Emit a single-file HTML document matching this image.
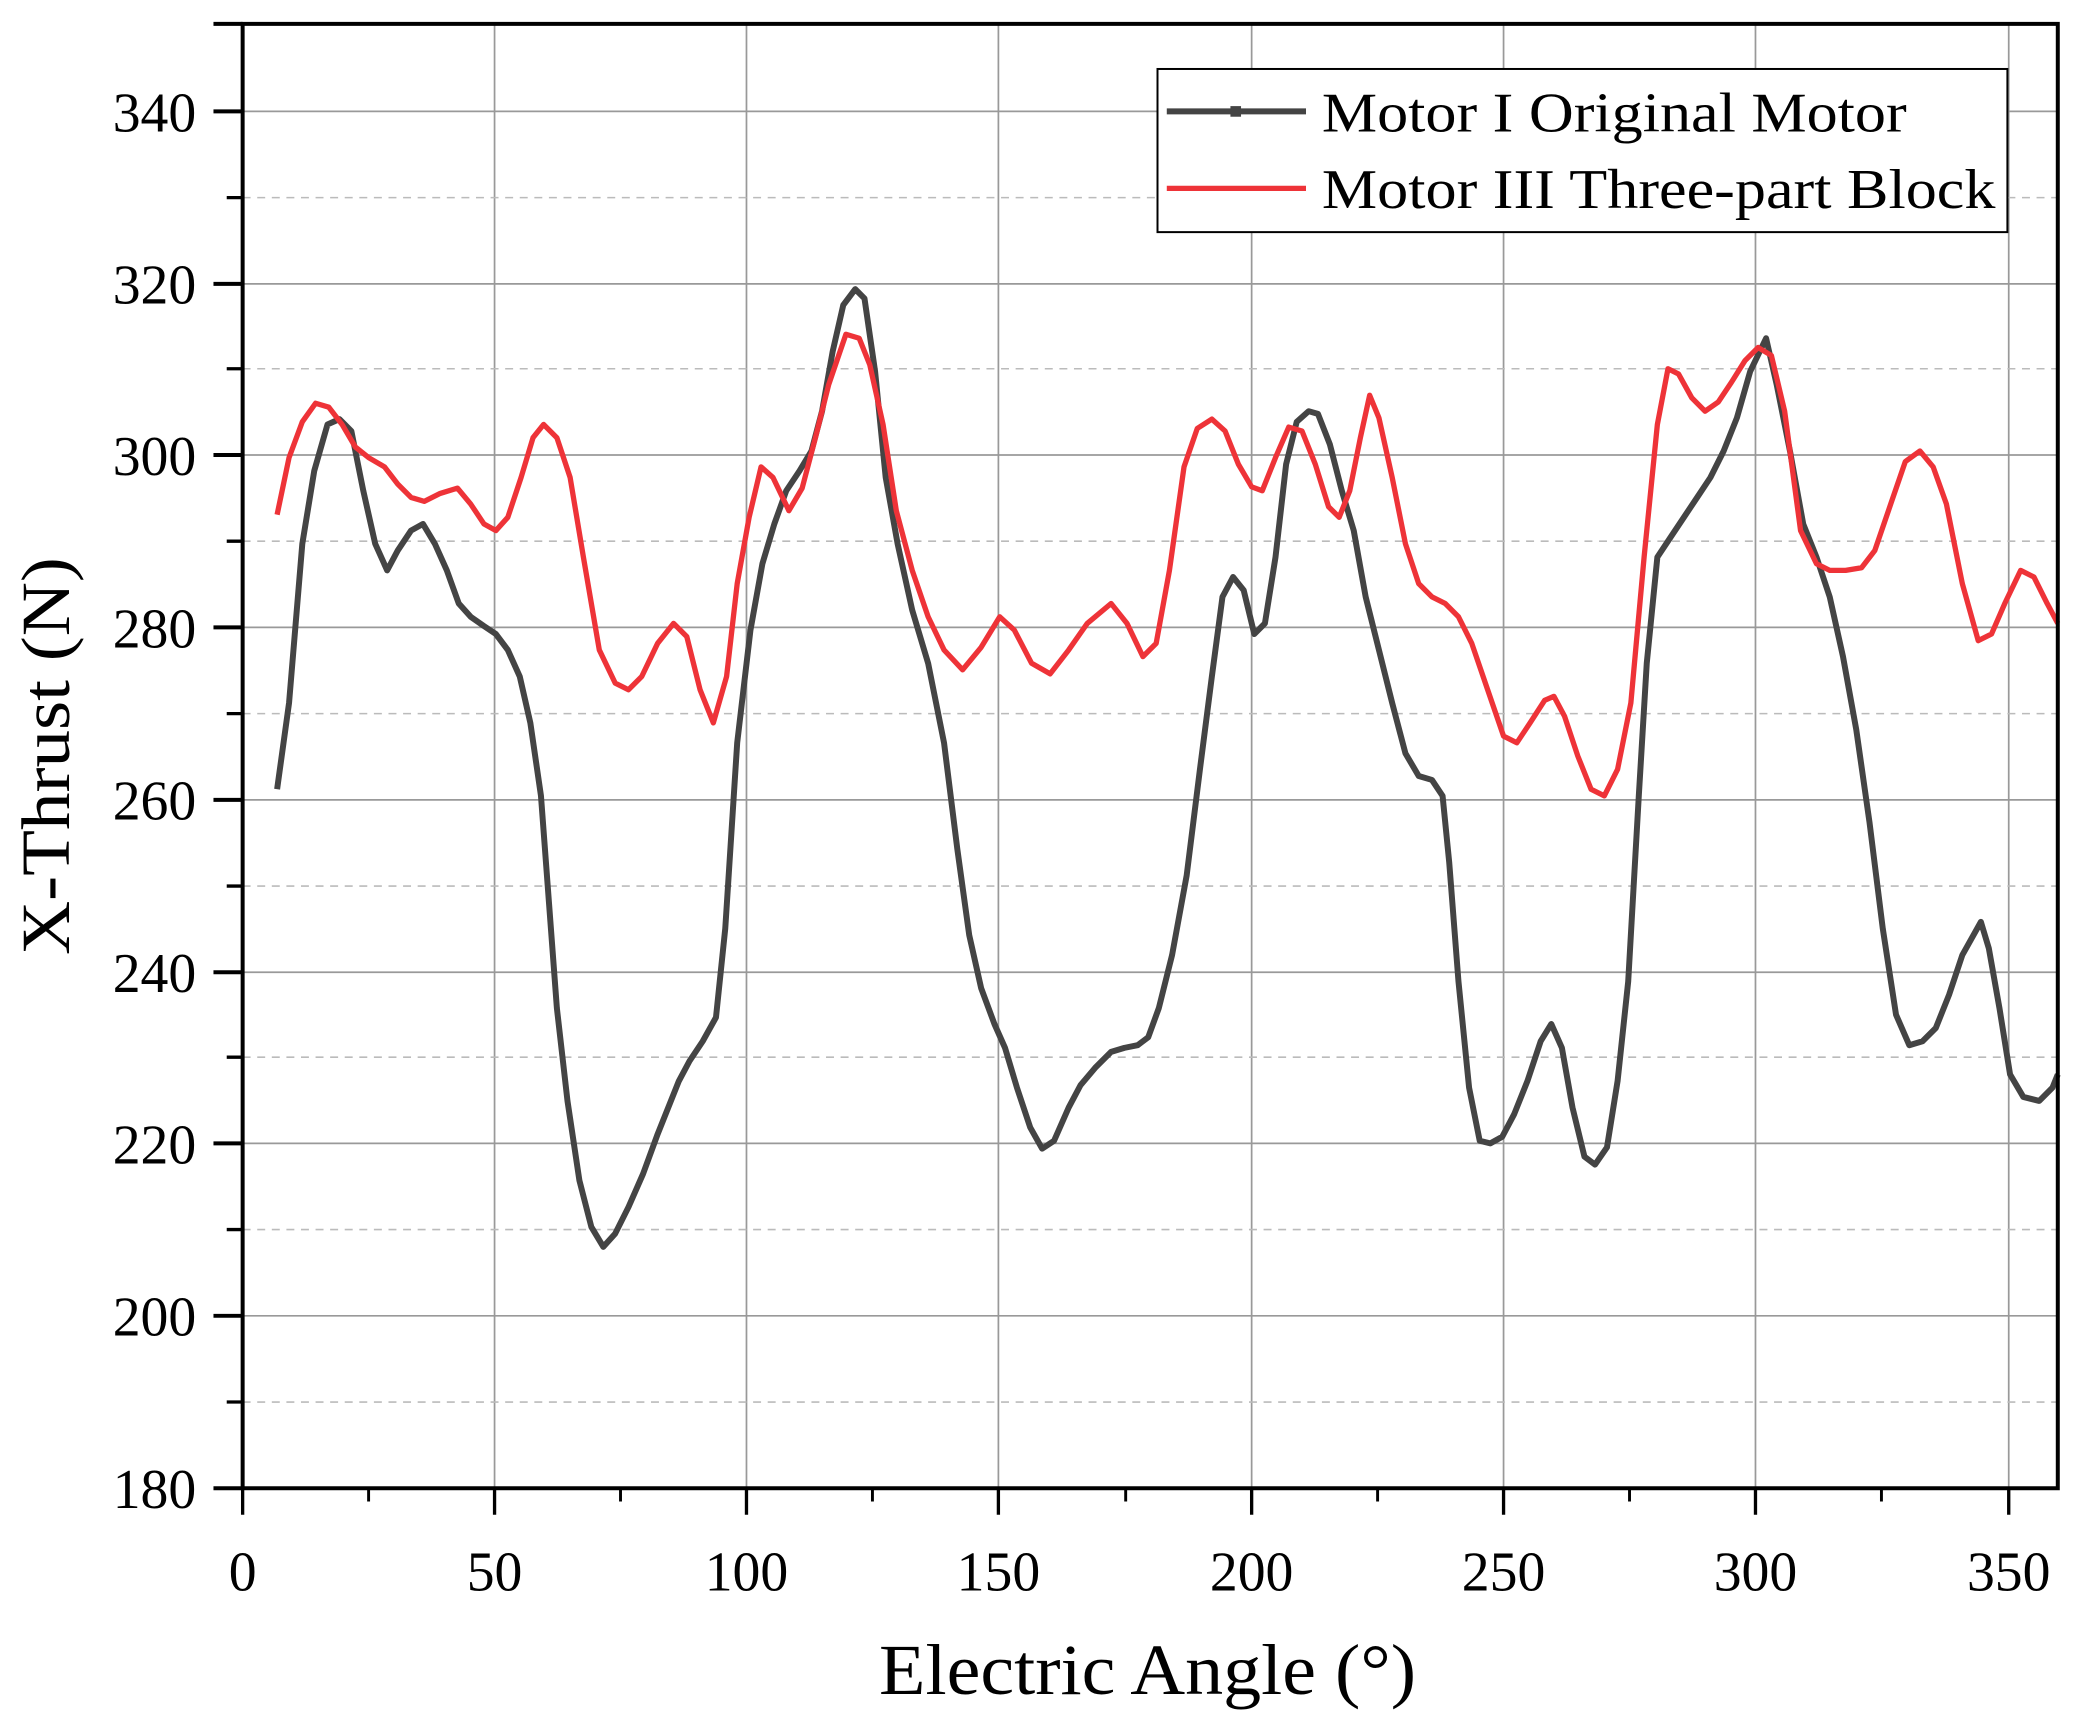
<!DOCTYPE html>
<html><head><meta charset="utf-8"><style>
html,body{margin:0;padding:0;background:#fff;}
svg{display:block;}
text{font-family:"Liberation Serif",serif;fill:#000;}
</style></head><body>
<svg width="2079" height="1727" viewBox="0 0 1568 1302" preserveAspectRatio="none" xmlns="http://www.w3.org/2000/svg">
<rect width="1568" height="1302" fill="#fff"/>
<g stroke="#999" stroke-width="1.3">
<line x1="373" y1="18" x2="373" y2="1122"/><line x1="563" y1="18" x2="563" y2="1122"/><line x1="753" y1="18" x2="753" y2="1122"/><line x1="944" y1="18" x2="944" y2="1122"/><line x1="1134" y1="18" x2="1134" y2="1122"/><line x1="1324" y1="18" x2="1324" y2="1122"/><line x1="1515" y1="18" x2="1515" y2="1122"/>
<line x1="183" y1="84" x2="1552" y2="84"/><line x1="183" y1="214" x2="1552" y2="214"/><line x1="183" y1="343" x2="1552" y2="343"/><line x1="183" y1="473" x2="1552" y2="473"/><line x1="183" y1="603" x2="1552" y2="603"/><line x1="183" y1="733" x2="1552" y2="733"/><line x1="183" y1="862" x2="1552" y2="862"/><line x1="183" y1="992" x2="1552" y2="992"/>
</g>
<g stroke="#bbb" stroke-width="1.2" stroke-dasharray="6,5">
<line x1="183" y1="149" x2="1552" y2="149"/><line x1="183" y1="278" x2="1552" y2="278"/><line x1="183" y1="408" x2="1552" y2="408"/><line x1="183" y1="538" x2="1552" y2="538"/><line x1="183" y1="668" x2="1552" y2="668"/><line x1="183" y1="797" x2="1552" y2="797"/><line x1="183" y1="927" x2="1552" y2="927"/><line x1="183" y1="1057" x2="1552" y2="1057"/>
</g>
<polyline fill="none" stroke="#444" stroke-width="4.5" stroke-linejoin="round" points="209,595 218,530 228,410 237,355 247,320 256,316 265,325 274,370 283,410 292,430 300,415 310,400 319,395 328,410 337,430 346,455 355,465 365,472 374,478 383,490 392,510 400,545 408,600 414,680 420,760 428,830 437,890 446,925 455,940 464,930 474,910 485,885 496,855 512,815 520,800 530,785 540,767 547,700 556,560 566,475 575,425 584,395 593,370 603,355 612,340 620,310 628,265 636,230 645,218 652,225 660,280 668,360 677,410 688,460 700,500 712,560 722,640 731,705 740,745 750,772 758,790 767,820 777,850 786,866 795,860 806,835 815,818 826,805 838,793 848,790 858,788 866,782 874,760 884,720 895,660 905,580 914,510 922,450 930,435 938,445 946,478 954,470 962,420 970,350 978,318 987,310 994,312 1003,335 1012,370 1021,400 1030,450 1040,490 1050,530 1060,568 1070,585 1080,588 1088,600 1093,650 1100,740 1108,820 1116,860 1124,862 1133,857 1142,840 1152,815 1162,785 1170,772 1178,790 1186,835 1195,872 1203,878 1212,865 1220,815 1228,740 1236,600 1242,500 1250,420 1260,405 1270,390 1280,375 1290,360 1300,340 1310,315 1320,280 1332,255 1340,290 1350,340 1360,395 1370,420 1380,450 1390,495 1400,550 1410,620 1420,700 1430,765 1440,788 1450,785 1460,775 1470,750 1480,720 1494,695 1500,715 1508,760 1516,810 1526,827 1538,830 1548,820 1552,810"/>
<polyline fill="none" stroke="#ee3338" stroke-width="4" stroke-linejoin="round" points="209,388 218,345 228,318 238,304 248,307 258,320 268,337 278,345 290,352 300,365 310,375 320,378 332,372 345,368 355,380 365,395 374,400 383,390 393,360 402,330 410,320 420,330 430,360 440,420 452,490 464,515 474,520 484,510 496,485 508,470 518,480 528,520 538,545 548,510 556,440 565,390 574,352 583,360 595,385 605,368 615,330 625,290 638,252 648,255 656,275 666,320 676,385 688,430 700,465 712,490 726,505 740,488 754,465 765,475 778,500 792,508 806,490 820,470 838,455 850,470 862,495 872,485 882,430 893,352 903,323 914,316 924,325 934,350 944,367 952,370 962,345 972,322 982,325 992,350 1002,382 1010,390 1018,370 1026,330 1033,298 1040,315 1050,360 1060,410 1070,440 1080,450 1090,455 1100,465 1110,485 1122,520 1134,555 1144,560 1154,545 1165,528 1172,525 1180,540 1190,570 1200,595 1210,600 1220,580 1230,530 1240,420 1250,320 1258,278 1266,282 1276,300 1286,310 1296,303 1306,288 1316,272 1326,262 1336,268 1346,310 1358,400 1370,425 1380,430 1392,430 1404,428 1414,415 1426,380 1437,348 1448,340 1458,352 1468,380 1480,440 1492,483 1502,478 1512,455 1524,430 1534,435 1544,455 1552,470"/>
<g stroke="#000" fill="none">
<rect x="183" y="18" width="1369" height="1104" stroke-width="3"/>
<path stroke-width="3" d="M183,84h-22M183,214h-22M183,343h-22M183,473h-22M183,603h-22M183,733h-22M183,862h-22M183,992h-22M183,1122h-22M183,18h-22"/>
<path stroke-width="2.5" d="M183,149h-12M183,278h-12M183,408h-12M183,538h-12M183,668h-12M183,797h-12M183,927h-12M183,1057h-12"/>
<path stroke-width="2.5" d="M183,1122v20M373,1122v20M563,1122v20M753,1122v20M944,1122v20M1134,1122v20M1324,1122v20M1515,1122v20"/>
<path stroke-width="2.2" d="M278,1122v10M468,1122v10M658,1122v10M849,1122v10M1039,1122v10M1229,1122v10M1419,1122v10"/>
</g>
<g font-size="42" text-anchor="end">
<text x="148" y="99">340</text><text x="148" y="229">320</text><text x="148" y="358">300</text><text x="148" y="488">280</text><text x="148" y="618">260</text><text x="148" y="748">240</text><text x="148" y="877">220</text><text x="148" y="1007">200</text><text x="148" y="1137">180</text>
</g>
<g font-size="42" text-anchor="middle">
<text x="183" y="1199">0</text><text x="373" y="1199">50</text><text x="563" y="1199">100</text><text x="753" y="1199">150</text><text x="944" y="1199">200</text><text x="1134" y="1199">250</text><text x="1324" y="1199">300</text><text x="1515" y="1199">350</text>
</g>
<text x="663" y="1277" font-size="54" textLength="405" lengthAdjust="spacingAndGlyphs">Electric Angle (°)</text>
<text transform="translate(52,720) rotate(-90)" font-size="52" textLength="300" lengthAdjust="spacingAndGlyphs">X-Thrust (N)</text>
<rect x="873" y="52" width="641" height="123" fill="#fff" stroke="#000" stroke-width="1.5"/>
<line x1="880" y1="84" x2="985" y2="84" stroke="#444" stroke-width="4.5"/>
<rect x="928" y="80" width="8" height="8" fill="#444"/>
<line x1="880" y1="142" x2="985" y2="142" stroke="#ee3338" stroke-width="4"/>
<text x="997" y="99" font-size="42" textLength="441" lengthAdjust="spacingAndGlyphs">Motor I Original Motor</text>
<text x="997" y="157" font-size="42" textLength="508" lengthAdjust="spacingAndGlyphs">Motor III Three-part Block</text>
</svg>
</body></html>
